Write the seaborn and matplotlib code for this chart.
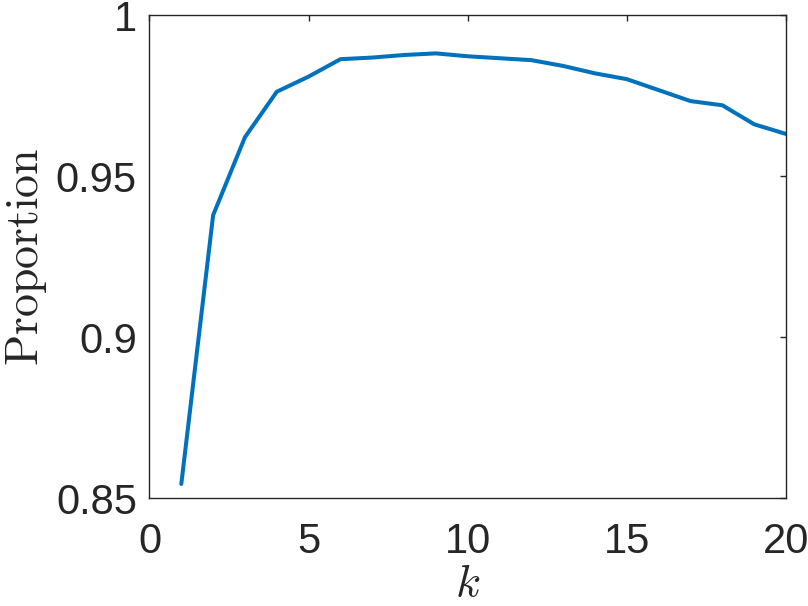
#curva de proporción en función de k, estilo parecido a MATLAB
import pandas as pd
import matplotlib
matplotlib.use("Agg")
import matplotlib.pyplot as plt
import seaborn as sns

#datos
k = list(range(1, 21))
proporcion = [0.8545, 0.9379, 0.9621, 0.9762, 0.9809, 0.9863, 0.9868, 0.9876,
              0.9881, 0.9872, 0.9866, 0.9860, 0.9842, 0.9819, 0.9801, 0.9767,
              0.9733, 0.9720, 0.9661, 0.9631]
xticks = [0, 5, 10, 15, 20]
yticks = [0.85, 0.9, 0.95, 1]
ytick_labels = ["0.85", "0.9", "0.95", "1"]

df = pd.DataFrame({"k": k, "Proporcion": proporcion})

sns.set_style("white")
plt.rcParams["font.family"] = ["Liberation Sans", "DejaVu Sans"]
plt.rcParams["mathtext.fontset"] = "cm"

fig = plt.figure(figsize=(8.08, 6.06), dpi=100)
ax = fig.add_axes([0.185, 0.1774, 0.7878, 0.7978])

sns.lineplot(x="k", y="Proporcion", data=df, ax=ax, color="#0072BD", linewidth=2.9)

ax.set_xlim(0, 20)
ax.set_ylim(0.85, 1)
ax.set_xticks(xticks)
ax.set_yticks(yticks)
ax.set_yticklabels(ytick_labels)
ax.tick_params(direction="in", length=4.5, width=1, labelsize=30, colors="#262626",
               top=True, right=True)
ax.tick_params(axis="x", pad=17)
ax.tick_params(axis="y", pad=9)
for s in ax.spines.values():
    s.set_visible(True)
    s.set_color("#262626")
    s.set_linewidth(1)

ax.set_xlabel("$k$", fontsize=33)
ax.set_ylabel(r"$\mathrm{Proportion}$", fontsize=33)
ax.xaxis.set_label_coords(0.5, -0.132)
ax.yaxis.set_label_coords(-0.158, 0.5)

fig.savefig("out.png", dpi=100)
